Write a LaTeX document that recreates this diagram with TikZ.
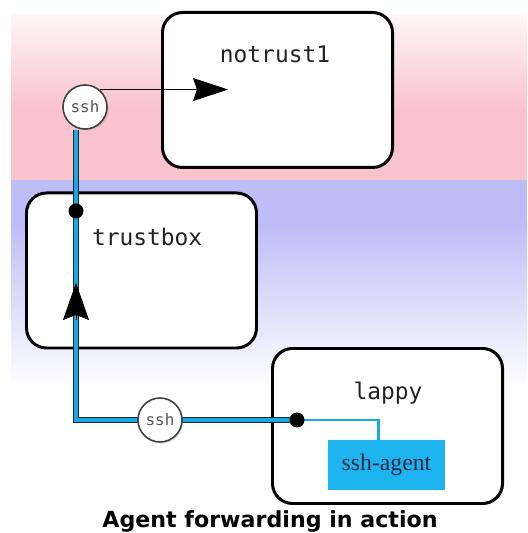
\documentclass[tikz,border=0pt]{standalone}
\usepackage{fontspec}
\setmainfont{Liberation Serif}
\setsansfont{DejaVu Sans}
\setmonofont{DejaVu Sans Mono}
\usetikzlibrary{arrows.meta,positioning,shadows,backgrounds}
\definecolor{pinkband}{HTML}{F9C3CE}
\definecolor{blueband}{HTML}{BDBDF7}
\definecolor{wirecyan}{HTML}{1AA8E2}
\definecolor{agentcyan}{HTML}{1DB4F0}
\definecolor{agenttext}{HTML}{1C2A44}
\definecolor{sshgray}{HTML}{555555}
\definecolor{darktext}{HTML}{222222}
\pgfdeclarelayer{front}
\pgfsetlayers{background,main,front}

\tikzset{
  hostbox/.style={draw=black, line width=1.7pt, fill=white, rounded corners=0.4cm,
    minimum width=4.6cm, minimum height=3.1cm},
  hostname/.style={font=\ttfamily\fontsize{13}{15}\selectfont, text=darktext},
  sshcirc/.style={circle, draw=black!75, line width=0.9pt, fill=white, minimum size=0.88cm,
    inner sep=0pt, font=\ttfamily\fontsize{9}{10}\selectfont, text=sshgray,
    drop shadow={opacity=0.25, shadow xshift=0.03cm, shadow yshift=-0.03cm}},
  wire/.style={draw=black!85, double=wirecyan, double distance=1.9pt, line width=0.55pt},
  thinwire/.style={draw=wirecyan, line width=1.7pt},
  jointdot/.style={circle, fill=black, minimum size=0.3cm, inner sep=0pt},
  agentbox/.style={fill=agentcyan, minimum width=2.34cm, minimum height=1.0cm,
    font=\fontsize{13.5}{15}\selectfont, text=agenttext},
}

\begin{document}
\begin{tikzpicture}
\useasboundingbox (0,0) rectangle (10.54,10.66);
% untrusted / trusted bands
\shade[top color=pinkband!15, bottom color=pinkband] (0.22,10.36) rectangle (10.54,8.5);
\fill[pinkband] (0.22,8.5) rectangle (10.54,7.06);
\fill[blueband] (0.22,7.06) rectangle (10.54,6.2);
\shade[top color=blueband, bottom color=white] (0.22,6.2) rectangle (10.54,2.9);

% hosts
\node[hostbox] (notrust) at (5.55,8.86) {};
\node[hostname] (notrustlbl) at (5.5,9.58) {notrust1};
\node[hostbox] (trustbox) at (2.83,5.25) {};
\node[hostname, anchor=west] (trustlbl) at (1.72,5.92) {trustbox};
\node[hostbox] (lappy) at (7.75,2.14) {};
\node[hostname] (lappylbl) at (7.76,2.80) {lappy};
\node[agentbox] (agent) at (7.73,1.36) {ssh-agent};

\coordinate (bend) at (1.52,2.26);
\coordinate (agentbend) at (7.56,2.26);
\coordinate (ntin) at (4.56,8.86);
\coordinate (upbase) at (1.52,4.25);
\coordinate (uptip) at (1.52,5.00);

\begin{pgfonlayer}{front}
\node[sshcirc] (sshtop) at (1.70,8.52) {ssh};
\node[sshcirc] (sshlow) at (3.20,2.26) {ssh};
\node[jointdot] (trustdot) at (1.52,6.44) {};
\node[jointdot] (lappydot) at (5.94,2.26) {};
\end{pgfonlayer}

% forwarded agent connection
\draw[thinwire] (lappydot.center) -- (agentbend) -- (agent.north -| agentbend);
\draw[wire] (lappydot.center) -- (bend) -- (trustdot.center) -- (trustdot |- sshtop.south);
\draw[-{Stealth[length=0.74cm,width=0.52cm,inset=0.1cm]}] (upbase) -- (uptip);
\draw[line width=1pt, draw=black, -{Stealth[length=0.7cm,width=0.46cm,inset=0.08cm]}]
  (sshtop.50) -- (sshtop.50 -| ntin);

\node[anchor=base, font=\sffamily\bfseries\fontsize{12.6}{14}\selectfont] (caption)
  at (5.40,0.10) {Agent forwarding in action};
\end{tikzpicture}
\end{document}
